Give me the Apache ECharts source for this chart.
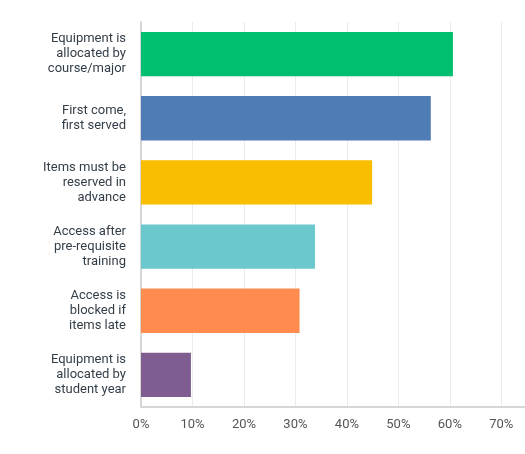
<!DOCTYPE html>
<html>
<head>
<meta charset="utf-8">
<script src="https://cdn.jsdelivr.net/npm/echarts@6/dist/echarts.min.js"></script>
<style>
  html, body { margin: 0; padding: 0; background: #fff; }
  #chart { width: 525px; height: 454px; }
</style>
</head>
<body>
<div id="chart"></div>
<script>
// answer options, top to bottom
var categories = [
  'Equipment is\nallocated by\ncourse/major',
  'First come,\nfirst served',
  'Items must be\nreserved in\nadvance',
  'Access after\npre-requisite\ntraining',
  'Access is\nblocked if\nitems late',
  'Equipment is\nallocated by\nstudent year'
]
var percents = [60.6, 56.3, 44.9, 33.8, 30.8, 9.7]
var barColors = ['#00bf6f', '#507cb6', '#f9be00', '#6bc8cd', '#ff8b4f', '#7f5d91']
var tickValues = [0, 10, 20, 30, 40, 50, 60, 70]

var chart = echarts.init(document.getElementById('chart'))

chart.setOption({
  animation: false,
  grid: {
    left: 141,
    right: 0,
    top: 22,
    bottom: 47
  },
  xAxis: {
    type: 'value',
    min: 0,
    max: 74.6,
    interval: 10,
    axisLine: { show: true, lineStyle: { color: '#d6d6d6', width: 2 } },
    axisTick: { show: false },
    splitLine: { lineStyle: { color: '#ebebeb', width: 1 } },
    axisLabel: {
      showMaxLabel: false,
      color: '#555',
      fontFamily: 'Roboto',
      fontSize: 13,
      margin: 11,
      formatter: function (v) {
        return tickValues.indexOf(v) >= 0 ? v + '%' : ''
      }
    }
  },
  yAxis: {
    type: 'category',
    inverse: true,
    data: categories,
    axisLine: { show: true, lineStyle: { color: '#d6d6d6', width: 2 } },
    axisTick: { show: false },
    axisLabel: {
      color: '#333e48',
      fontFamily: 'Roboto',
      fontSize: 13,
      lineHeight: 15,
      margin: 15,
      align: 'right'
    }
  },
  series: [{
    type: 'bar',
    barCategoryGap: '31%',
    data: percents.map(function (v, i) {
      return { value: v, itemStyle: { color: barColors[i] } }
    })
  }]
})
</script>
</body>
</html>
